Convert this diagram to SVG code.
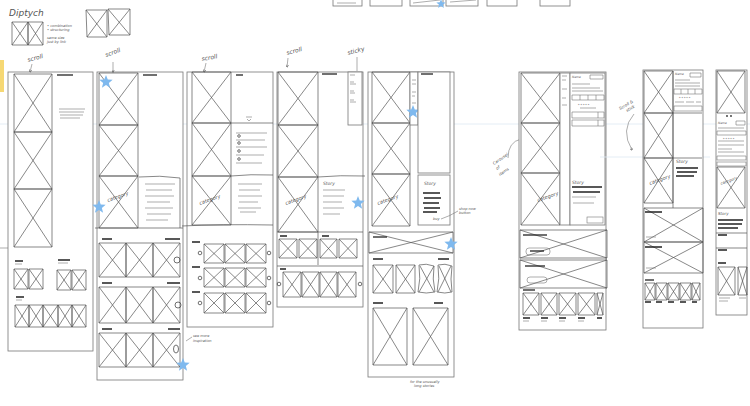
<svg xmlns="http://www.w3.org/2000/svg" width="750" height="406" viewBox="0 0 750 406">
<defs>
<style>
.bg{fill:#fff}
.p{fill:#fff;stroke:#777;stroke-width:0.8}
.x{fill:none;stroke:#555;stroke-width:0.7}
.t{fill:none;stroke:#777;stroke-width:0.6}
.h{fill:none;stroke:#222;stroke-width:1.3}
.c{fill:none;stroke:#333;stroke-width:0.7}
.hw{font-family:"DejaVu Sans",sans-serif;fill:#555;font-style:italic}
.g{fill:none;stroke:#dde8f3;stroke-width:0.8}
</style>
<path id="star" d="M0,-7 L1.76,-2.43 L6.66,-2.16 L2.85,0.93 L4.11,5.66 L0,3 L-4.11,5.66 L-2.85,0.93 L-6.66,-2.16 L-1.76,-2.43 Z" fill="#7fb9ee"/>
<marker id="ah" viewBox="0 0 6 6" refX="5" refY="3" markerWidth="5" markerHeight="5" orient="auto"><path d="M0,0 L6,3 L0,6" fill="none" stroke="#444" stroke-width="1"/></marker>
</defs>
<rect class="bg" x="0" y="0" width="750" height="406"/>
<path class="g" d="M0,124 H750"/>
<rect x="0" y="60" width="4" height="32" fill="#f6d874"/>

<g id="topstrip">
<rect class="p" x="333" y="-2" width="29" height="8"/>
<path class="t" d="M337,3 H356"/>
<rect class="p" x="370" y="-2" width="32" height="8"/>
<rect class="p" x="410" y="-2" width="33" height="8"/>
<rect class="p" x="446" y="-2" width="32" height="8"/>
<path class="t" d="M413,3 L440,0 M450,2 L476,0"/>
<rect class="p" x="487" y="-2" width="30" height="8"/>
<rect class="p" x="540" y="-2" width="30" height="8"/>
<use href="#star" transform="translate(441,4) scale(0.7)"/>
</g>

<g id="diptych">
<text class="hw" x="9" y="16" font-size="9">Diptych</text>
<path class="x" d="M12,22 H28 V45 H12 Z L28,45 M28,22 L12,45 M28,22 H43 V45 H28 Z L43,45 M43,22 L28,45"/>
<text class="hw" x="47" y="27" font-size="3.5">• combination</text>
<text class="hw" x="47" y="31" font-size="3.5">• structuring</text>
<text class="hw" x="47" y="39" font-size="3.5">same size</text>
<text class="hw" x="47" y="43" font-size="3.5">just by link</text>
<path class="x" d="M86,10 H107 V37 H87 Z L107,37 M107,10 L87,37 M108,9 H130 V35 H109 Z L130,35 M130,9 L109,35"/>
</g>

<g id="panel1">
<rect class="p" x="8" y="72" width="85" height="279"/>
<path class="x" d="M14,74 H52 V132 H14 Z L52,132 M52,74 L14,132 M14,132 H52 V189 H14 Z L52,189 M52,132 L14,189 M14,189 H52 V247 H14 Z L52,247 M52,189 L14,247"/>
<path class="h" d="M57,75 H73"/>
<path class="t" d="M59,109 H85 M59,112 H84 M60,115 H83 M60,118 H80"/>
<path class="t" d="M0,248 H8"/>
<path class="h" d="M15,261 H23 M58,260 H70 M16,297 H24" stroke-width="0.9"/>
<path class="t" d="M15,264 H22 M58,263 H68 M16,300 H22"/>
<path class="x" d="M14,269 H28 V289 H14 Z L28,289 M28,269 L14,289 M29,269 H43 V289 H29 Z L43,289 M43,269 L29,289 M57,270 H71 V290 H57 Z L71,290 M71,270 L57,290 M72,270 H86 V290 H72 Z L86,290 M86,270 L72,290"/>
<path class="x" d="M15,305 H29 V327 H15 Z L29,327 M29,305 L15,327 M29,305 H43 V327 H29 Z L43,327 M43,305 L29,327 M43,305 H58 V327 H43 Z L58,327 M58,305 L43,327 M58,305 H72 V327 H58 Z L72,327 M72,305 L58,327 M72,305 H86 V327 H72 Z L86,327 M86,305 L72,327"/>
<text class="hw" x="28" y="62" font-size="6" transform="rotate(-15 28 62)">scroll</text>
<path class="t" d="M32,64 L30,72" marker-end="url(#ah)"/>
</g>

<g id="panel2">
<rect class="p" x="97" y="72" width="86" height="308"/>
<path class="x" d="M99,73 H138 V125 H99 Z L138,125 M138,73 L99,125 M99,125 H138 V176 H99 Z L138,176 M138,125 L99,176 M99,176 H138 V228 H99 Z L138,228 M138,176 L99,228"/>
<path class="h" d="M143,75 H157"/>
<path class="x" d="M139,177 Q160,175 180,178 V228"/>
<path class="t" d="M145,184 H175 M146,190 H172 M145,196 H174 M147,202 H170 M145,208 H173 M147,214 H171 M146,220 H168"/>
<path class="x" d="M95,228 H183"/>
<text class="hw" x="108" y="202" font-size="5" transform="rotate(-20 108 202)">category</text>
<path class="h" d="M102,239 H112 M165,239 H180 M102,283 H112 M167,283 H180 M102,329 H112 M168,329 H180" stroke-width="0.9"/>
<path class="x" d="M99,243 H126 V277 H99 Z L126,277 M126,243 L99,277 M126,243 H153 V277 H126 Z L153,277 M153,243 L126,277 M153,243 H180 V277 H153 Z L180,277 M180,243 L153,277"/>
<path class="x" d="M99,287 H126 V323 H99 Z L126,323 M126,287 L99,323 M126,287 H153 V323 H126 Z L153,323 M153,287 L126,323 M153,287 H180 V323 H153 Z L180,323 M180,287 L153,323"/>
<path class="x" d="M99,333 H126 V367 H99 Z L126,367 M126,333 L99,367 M126,333 H153 V367 H126 Z L153,367 M153,333 L126,367 M153,333 H180 V367 H153 Z L180,367 M180,333 L153,367"/>
<circle class="c" cx="177" cy="260" r="3"/>
<circle class="c" cx="178" cy="305" r="3"/>
<ellipse class="c" cx="176" cy="349" rx="2.5" ry="4"/>
<use href="#star" x="106" y="82"/>
<use href="#star" x="99" y="207"/>
<use href="#star" x="183" y="365"/>
<path class="t" d="M186,341 L192,337"/>
<text class="hw" x="193" y="337" font-size="3.5">see more</text>
<text class="hw" x="193" y="342" font-size="3.5">inspiration</text>
<text class="hw" x="106" y="57" font-size="6" transform="rotate(-20 106 57)">scroll</text>
<path class="t" d="M113,62 L113,72" marker-end="url(#ah)"/>
</g>

<g id="panel3">
<rect class="p" x="187" y="72" width="86" height="255"/>
<path class="x" d="M192,72 H231 V123 H192 Z L231,123 M231,72 L192,123 M192,123 H231 V176 H192 Z L231,176 M231,123 L192,176 M192,176 H231 V225 H192 Z L231,225 M231,176 L192,225"/>
<path class="x" d="M231,123 H273 M231,176 Q250,174 273,175"/>
<path class="h" d="M236,75 H243"/>
<path class="t" d="M246,117 H252 M247,119 L249,121 L251,119"/>
<path class="t" d="M236,133 H267 M236,140 H265 M236,147 H267 M236,155 H264 M236,163 H262"/>
<circle class="c" cx="239" cy="136" r="1.3"/>
<circle class="c" cx="239" cy="143" r="1.3"/>
<circle class="c" cx="239" cy="151" r="1.3"/>
<circle class="c" cx="239" cy="159" r="1.3"/>
<path class="t" d="M238,184 H262 M239,190 H260 M238,196 H262 M239,202 H258 M238,208 H261 M240,212 H256"/>
<text class="hw" x="200" y="205" font-size="5" transform="rotate(-20 200 205)">category</text>
<path class="x" d="M182,226 Q220,224 273,225"/>
<path class="h" d="M192,242 H200 M192,267 H200 M192,292 H200" stroke-width="0.9"/>
<path class="x" d="M204,244 H224 V263 H204 Z L224,263 M224,244 L204,263 M225,244 H245 V263 H225 Z L245,263 M245,244 L225,263 M246,244 H266 V263 H246 Z L266,263 M266,244 L246,263"/>
<path class="x" d="M204,268 H224 V287 H204 Z L224,287 M224,268 L204,287 M225,268 H245 V287 H225 Z L245,287 M245,268 L225,287 M246,268 H266 V287 H246 Z L266,287 M266,268 L246,287"/>
<path class="x" d="M204,293 H224 V313 H204 Z L224,313 M224,293 L204,313 M225,293 H245 V313 H225 Z L245,313 M245,293 L225,313 M246,293 H266 V313 H246 Z L266,313 M266,293 L246,313"/>
<circle class="c" cx="200" cy="253" r="1.8"/>
<circle class="c" cx="269" cy="253" r="1.8"/>
<circle class="c" cx="200" cy="278" r="1.8"/>
<circle class="c" cx="269" cy="278" r="1.8"/>
<circle class="c" cx="200" cy="303" r="1.8"/>
<circle class="c" cx="269" cy="303" r="1.8"/>
<text class="hw" x="202" y="61" font-size="6" transform="rotate(-10 202 61)">scroll</text>
<path class="t" d="M206,63 L204,72" marker-end="url(#ah)"/>
</g>

<g id="panel4">
<rect class="p" x="277" y="72" width="86" height="235"/>
<path class="x" d="M278,72 H318 V125 H278 Z L318,125 M318,72 L278,125 M278,125 H318 V177 H278 Z L318,177 M318,125 L278,177 M278,177 H318 V232 H278 Z L318,232 M318,177 L278,232"/>
<path class="h" d="M322,74 H337"/>
<rect class="p" x="348" y="72" width="14" height="53"/>
<path class="t" d="M350,75 H355 M350,82 H354 M350,84 H356 M350,91 H354 M350,93 H355 M350,100 H354 M350,102 H356"/>
<path class="x" d="M318,177 Q340,175 365,176"/>
<text class="hw" x="323" y="185" font-size="4.5">Story</text>
<path class="t" d="M323,190 H345 M323,196 H344 M323,202 H342 M323,208 H344 M323,214 H340"/>
<use href="#star" x="358" y="203"/>
<text class="hw" x="286" y="205" font-size="5" transform="rotate(-20 286 205)">category</text>
<path class="x" d="M277,232 H363 M318,232 V265 M277,266 H363"/>
<path class="h" d="M280,236 H287 M322,236 H329 M280,269 H286" stroke-width="0.9"/>
<path class="x" d="M279,239 H297 V258 H279 Z L297,258 M297,239 L279,258 M299,239 H317 V258 H299 Z L317,258 M317,239 L299,258 M320,239 H337 V258 H320 Z L337,258 M337,239 L320,258 M339,239 H357 V258 H339 Z L357,258 M357,239 L339,258"/>
<path class="x" d="M283,272 H301 V297 H283 Z L301,297 M301,272 L283,297 M302,272 H319 V297 H302 Z L319,297 M319,272 L302,297 M320,272 H337 V297 H320 Z L337,297 M337,272 L320,297 M338,272 H356 V297 H338 Z L356,297 M356,272 L338,297"/>
<circle class="c" cx="279" cy="284" r="1.8"/>
<circle class="c" cx="360" cy="284" r="1.8"/>
<text class="hw" x="287" y="55" font-size="6" transform="rotate(-15 287 55)">scroll</text>
<path class="t" d="M288,58 L287,67" marker-end="url(#ah)"/>
<text class="hw" x="348" y="55" font-size="6" transform="rotate(-15 348 55)">sticky</text>
<path class="t" d="M357,57 V71"/>
</g>

<g id="panel5">
<rect class="p" x="368" y="72" width="86" height="305"/>
<path class="x" d="M372,72 H410 V123 H372 Z L410,123 M410,72 L372,123 M372,123 H410 V174 H372 Z L410,174 M410,123 L372,174 M372,174 H410 V226 H372 Z L410,226 M410,174 L372,226"/>
<rect class="p" x="410" y="72" width="8" height="53"/>
<path class="t" d="M412,80 H416 M412,84 H416 M412,92 H416 M412,96 H415 M412,103 H416"/>
<use href="#star" x="413" y="112"/>
<rect class="p" x="418" y="72" width="32" height="101"/>
<path class="h" d="M421,74 H433"/>
<rect class="p" x="418" y="175" width="32" height="50"/>
<text class="hw" x="424" y="185" font-size="4.5">Story</text>
<path class="h" d="M423,193 H440 M424,198 H441 M423,203 H439 M424,208 H440 M423,212 H437" stroke-width="1.6"/>
<text class="hw" x="433" y="220" font-size="3.5">buy</text>
<path class="t" d="M441,219 Q450,216 458,211"/>
<text class="hw" x="459" y="210" font-size="3.5">shop now</text>
<text class="hw" x="459" y="214" font-size="3.5">button</text>
<text class="hw" x="378" y="205" font-size="5" transform="rotate(-20 378 205)">category</text>
<path class="x" d="M369,232 H453 V253 H369 Z L453,253 M453,232 L369,253"/>
<path class="h" d="M373,237 H387"/>
<use href="#star" x="451" y="244"/>
<path class="h" d="M373,259 H383 M438,259 H449 M373,303 H383 M434,303 H443" stroke-width="0.9"/>
<path class="x" d="M373,265 H393 V293 H373 Z L393,293 M393,265 L373,293 M396,265 H415 V293 H396 Z L415,293 M415,265 L396,293"/>
<path class="x" d="M419,265 Q426,263 434,266 Q432,279 435,292 Q426,294 418,292 Q421,279 419,265 Z M420,266 L434,292 M434,266 L419,292 M438,265 Q445,263 452,266 Q450,279 452,292 Q445,294 437,292 Q440,279 438,265 Z M439,266 L451,292 M451,266 L438,292"/>
<path class="x" d="M373,308 H407 V365 H373 Z L407,365 M407,308 L373,365 M413,308 H448 V365 H413 Z L448,365 M448,308 L413,365"/>
<text class="hw" x="410" y="383" font-size="3.5">for the unusually</text>
<text class="hw" x="414" y="387" font-size="3.5">long stories</text>
</g>

<g id="carousel-note">
<text class="hw" x="494" y="165" font-size="4" transform="rotate(-35 494 165)">Carousel</text>
<text class="hw" x="497" y="170" font-size="4" transform="rotate(-35 497 170)">of</text>
<text class="hw" x="500" y="176" font-size="4" transform="rotate(-35 500 176)">items</text>
<path class="t" d="M508,158 Q508,142 521,139" stroke="#333"/>
</g>

<g id="panel6">
<rect class="p" x="519" y="72" width="87" height="258"/>
<path class="x" d="M521,73 H560 V123 H521 Z L560,123 M560,73 L521,123 M521,123 H560 V173 H521 Z L560,173 M560,123 L521,173 M521,173 H560 V225 H521 Z L560,225 M560,173 L521,225"/>
<rect class="p" x="560" y="73" width="10" height="152"/>
<path class="t" d="M562,76 H567 M562,80 H566 M562,89 H567 M562,98 H566 M562,105 H567"/>
<rect class="p" x="570" y="73" width="35" height="152"/>
<text class="hw" x="572" y="78" font-size="3">Name</text>
<path class="t" d="M590,75 H603 V79 H590 Z M572,84 H590 M572,88 H600 M572,91 H603"/>
<path class="t" d="M572,95 H604 V100 H572 Z M580,95 V100 M588,95 V100 M596,95 V100"/>
<text class="hw" x="578" y="106" font-size="3">* * * * *</text>
<path class="t" d="M580,108 H596 M572,112 H604 V118 H572 Z M572,120 H604 V126 H572 Z M598,112 V118 M598,120 V126"/>
<text class="hw" x="572" y="184" font-size="4.5">Story</text>
<path class="h" d="M572,187 H602 M573,192 H600" stroke-width="0.8"/>
<path class="t" d="M572,197 H596 M573,203 H594"/>
<rect class="t" x="587" y="217" width="16" height="6"/>
<text class="hw" x="538" y="202" font-size="5" transform="rotate(-20 538 202)">category</text>
<path class="x" d="M520,230 H607 V258 H520 Z L607,258 M607,230 L520,258"/>
<path class="h" d="M523,235 H547"/>
<rect class="t" x="526" y="248" width="24" height="7" rx="3"/>
<path class="h" d="M530,251 H544" stroke-width="0.8"/>
<path class="x" d="M520,260 H607 V288 H520 Z L607,288 M607,260 L520,288"/>
<path class="h" d="M525,266 H545"/>
<rect class="t" x="527" y="277" width="20" height="6" rx="3"/>
<path class="h" d="M523,290 H535" stroke-width="0.9"/>
<path class="x" d="M523,293 H539 V315 H523 Z L539,315 M539,293 L523,315 M541,293 H557 V315 H541 Z L557,315 M557,293 L541,315 M559,293 H576 V315 H559 Z L576,315 M576,293 L559,315 M578,293 H595 V315 H578 Z L595,315 M595,293 L578,315 M597,293 H603 V315 H597 Z L603,315 M603,293 L597,315"/>
<path class="h" d="M523,318 H530 M541,318 H548 M559,318 H566 M578,318 H585 M597,318 H602" stroke-width="0.8"/>
<path class="t" d="M523,321 H529 M541,321 H547 M559,321 H565 M578,321 H584"/>
</g>

<g id="scroll-stick-note">
<text class="hw" x="620" y="110" font-size="4" transform="rotate(-30 620 110)">Scroll &amp;</text>
<text class="hw" x="627" y="112" font-size="4" transform="rotate(-30 627 112)">stick</text>
<path class="t" d="M634,114 Q620,130 632,150" stroke="#333" marker-end="url(#ah)"/>
<path class="g" d="M600,157 H710" stroke="#cfcfcf"/>
</g>

<g id="panel7">
<rect class="p" x="643" y="70" width="60" height="258"/>
<path class="x" d="M644,71 H673 V113 H644 Z L673,113 M673,71 L644,113 M644,113 H673 V158 H644 Z L673,158 M673,113 L644,158 M644,158 H673 V203 H644 Z L673,203 M673,158 L644,203"/>
<path class="x" d="M673,71 V208 M673,113 H702 M673,158 H702"/>
<text class="hw" x="675" y="75" font-size="3">Name</text>
<path class="t" d="M690,73 H701 V77 H690 Z M675,80 H690 M675,83 H700 M675,86 H700"/>
<path class="t" d="M674,89 H702 V94 H674 Z M681,89 V94 M688,89 V94 M695,89 V94"/>
<text class="hw" x="679" y="99" font-size="3">* * * * *</text>
<path class="t" d="M675,102 H684 M686,102 H694 M696,102 H701 M674,106 H702 V111 H674 Z"/>
<text class="hw" x="676" y="163" font-size="4.5">Story</text>
<path class="h" d="M676,168 H698 M677,172 H697 M676,176 H694" stroke-width="0.8"/>
<text class="hw" x="650" y="185" font-size="5" transform="rotate(-20 650 185)">category</text>
<path class="x" d="M644,208 H703 V242 H644 Z L703,242 M703,208 L644,242 M644,242 H703 V273 H644 Z L703,273 M703,242 L644,273"/>
<path class="h" d="M645,212 H662 M645,247 H662" stroke-width="0.9"/>
<path class="t" d="M646,237 H656 M646,268 H656"/>
<path class="h" d="M645,280 H654" stroke-width="0.9"/>
<path class="x" d="M645,283 H655 V300 H645 Z L655,300 M655,283 L645,300 M656,283 H667 V300 H656 Z L667,300 M667,283 L656,300 M668,283 H679 V300 H668 Z L679,300 M679,283 L668,300 M680,283 H691 V300 H680 Z L691,300 M691,283 L680,300 M692,283 H700 V300 H692 Z L700,300 M700,283 L692,300"/>
<path class="h" d="M645,302 H651 M656,302 H662 M668,302 H674 M680,302 H686 M692,302 H697" stroke-width="0.7"/>
</g>

<g id="panel8">
<rect class="p" x="716" y="70" width="31" height="245"/>
<path class="x" d="M717,71 H745 V113 H717 Z L745,113 M745,71 L717,113"/>
<circle cx="727" cy="116" r="0.9" fill="#333"/>
<circle cx="731" cy="116" r="0.9" fill="#333"/>
<text class="hw" x="718" y="124" font-size="3">Name</text>
<path class="t" d="M736,121 H745 V125 H736 Z M718,128 H744 M717,131 H746 V135 H717 Z M718,141 H744 M718,145 H744 M718,149 H732 M718,152 H744 M717,156 H746 V160 H717 Z M717,162 H746 V166 H717 Z"/>
<text class="hw" x="723" y="140" font-size="3">* * * * *</text>
<path class="x" d="M717,167 H745 V208 H717 Z L745,208 M745,167 L717,208"/>
<text class="hw" x="721" y="185" font-size="4" transform="rotate(-20 721 185)">category</text>
<text class="hw" x="718" y="215" font-size="4">Story</text>
<path class="h" d="M718,220 H743 M718,224 H742 M718,228 H738" stroke-width="0.8"/>
<path class="x" d="M716,233 H747 M716,248 H747"/>
<path class="h" d="M718,235 H727 M718,250 H727 M718,263 H726" stroke-width="0.8"/>
<path class="x" d="M718,267 H735 V295 H718 Z L735,295 M735,267 L718,295 M738,267 H747 V295 H738 Z L747,295 M747,267 L738,295"/>
<path class="t" d="M719,298 H730 M719,301 H728 M739,298 H746"/>
</g>
</svg>
